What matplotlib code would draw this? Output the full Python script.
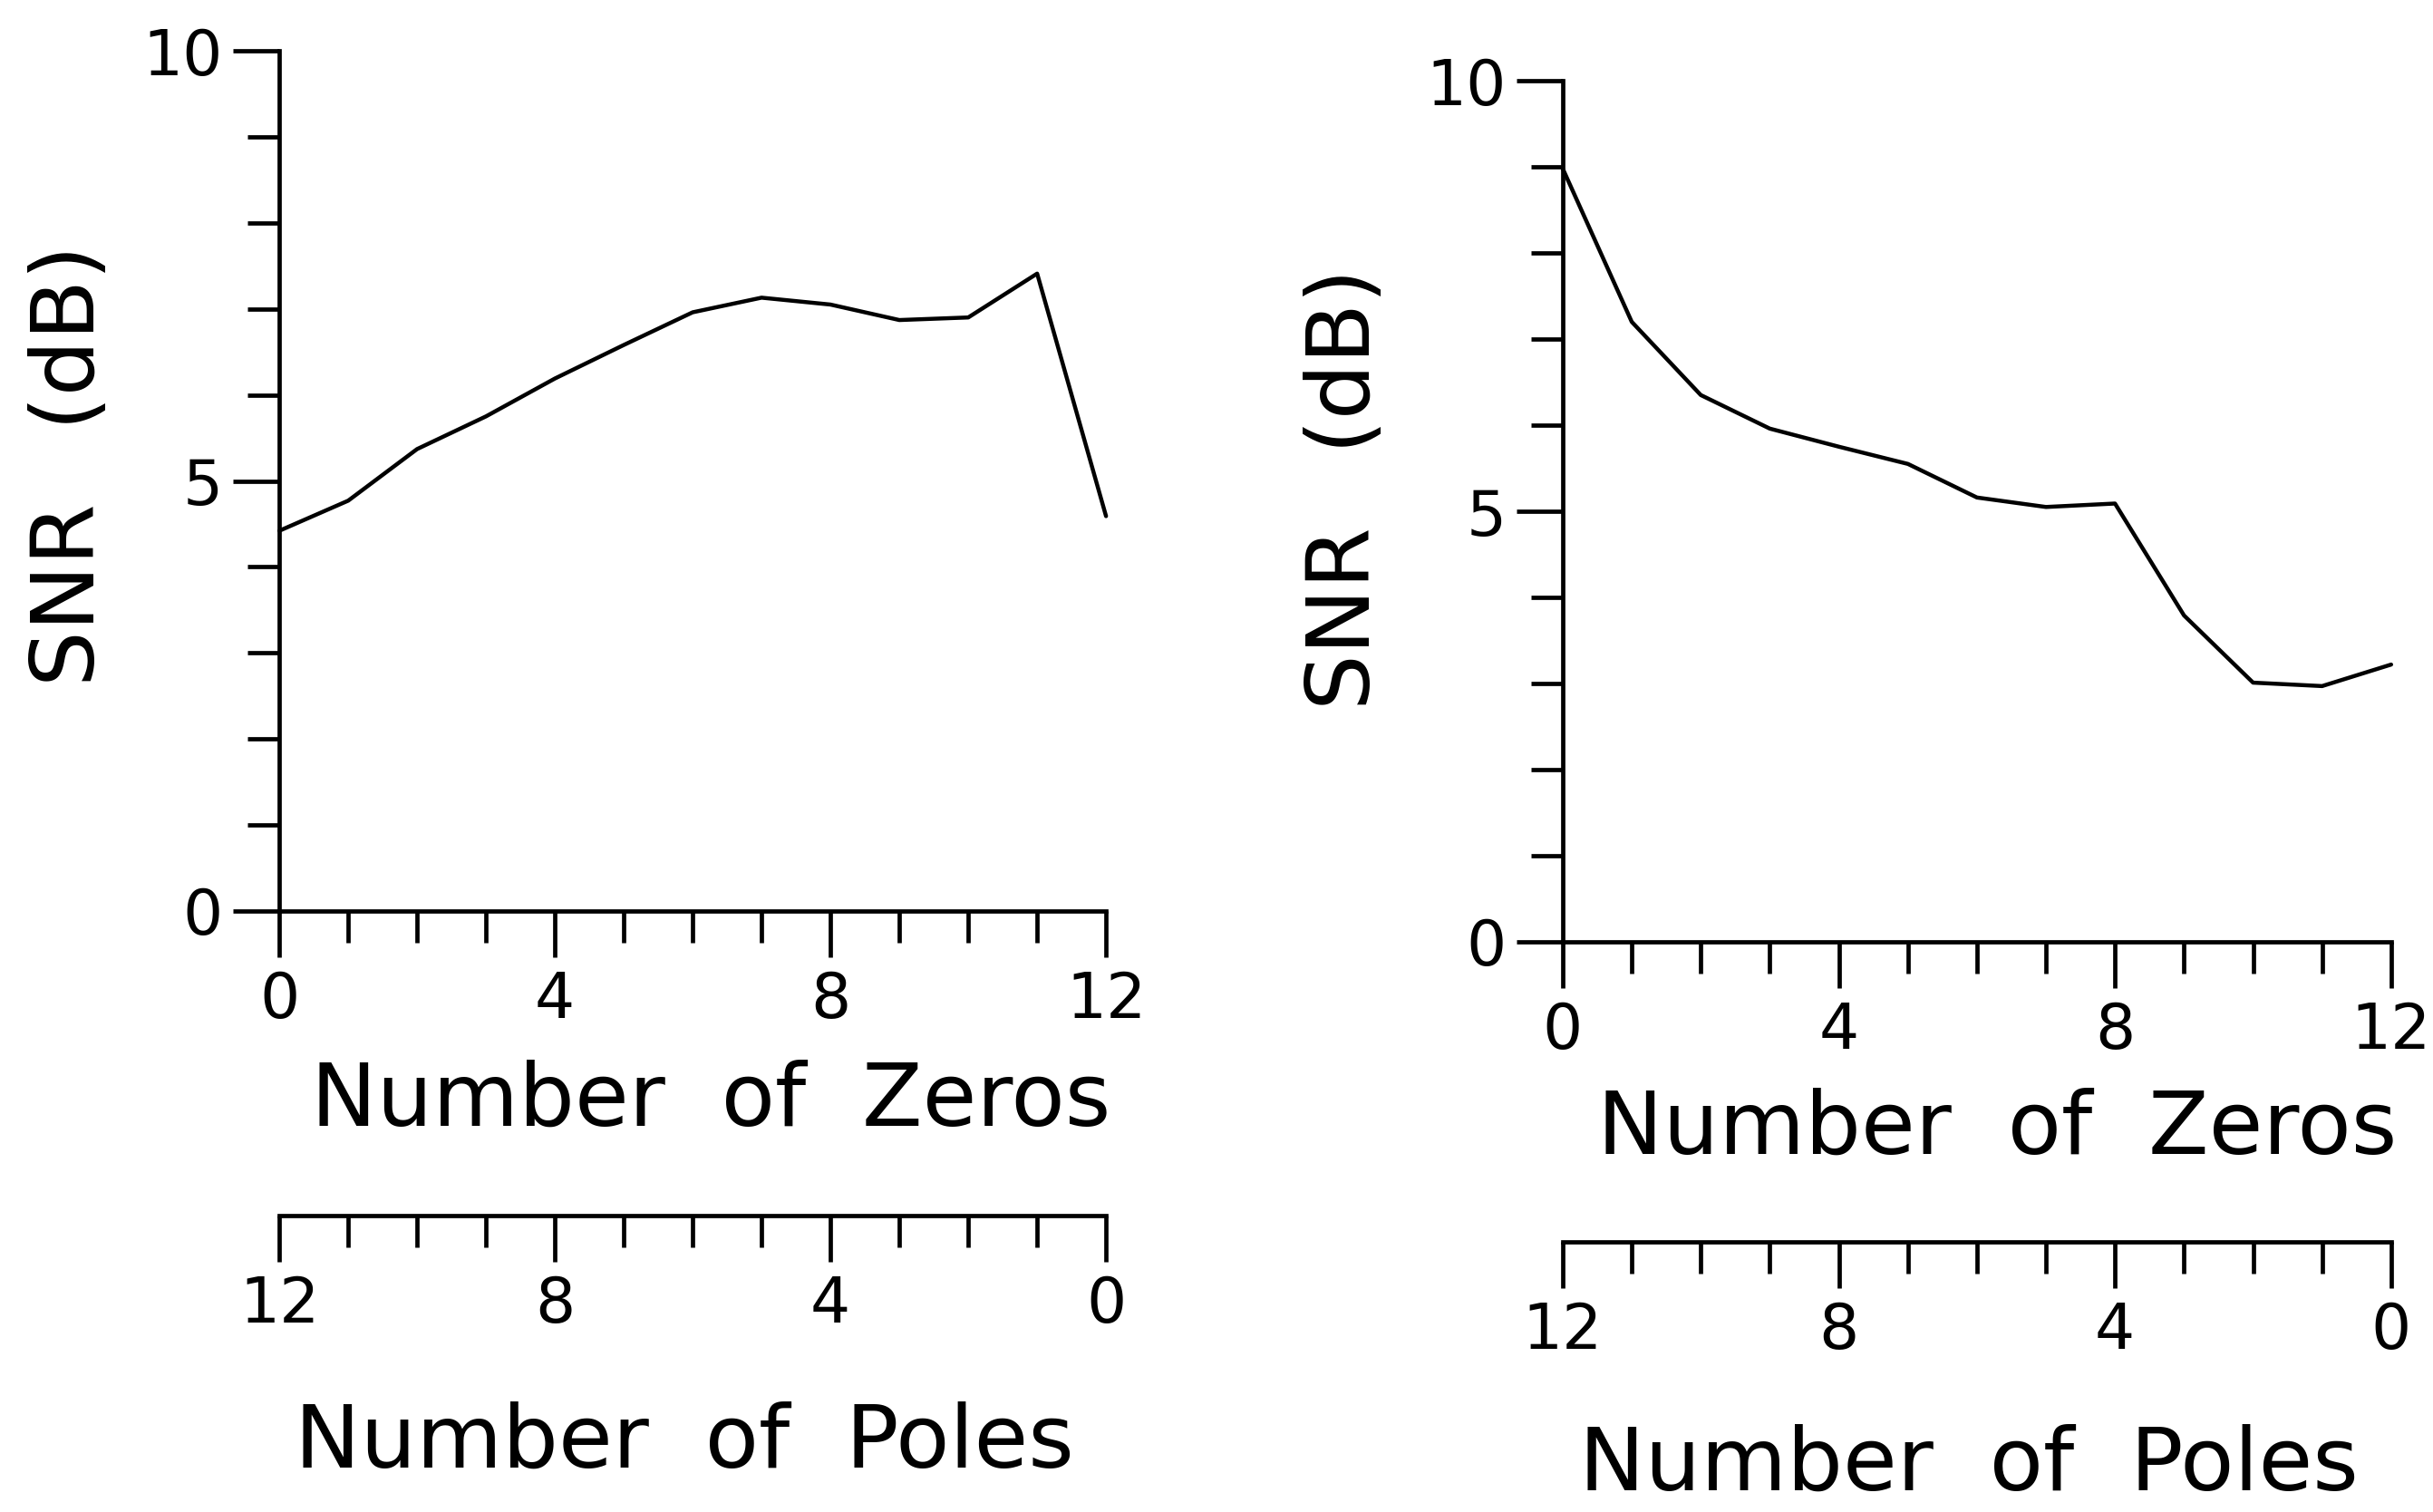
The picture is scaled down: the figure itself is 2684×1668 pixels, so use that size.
import matplotlib
matplotlib.use("Agg")
import matplotlib.pyplot as plt
import numpy as np

# SNR (dB) versus number of zeros; poles = 12 - zeros
n_zeros = [0, 1, 2, 3, 4, 5, 6, 7, 8, 9, 10, 11, 12]
snr_left = [4.42, 4.77, 5.37, 5.75, 6.19, 6.58, 6.96, 7.13, 7.05, 6.87, 6.90, 7.41, 4.59]
snr_right = [8.98, 7.20, 6.35, 5.96, 5.75, 5.55, 5.16, 5.05, 5.09, 3.79, 3.01, 2.97, 3.22]
total_order = 12
y_major = [0, 5, 10]
x_major = [0, 4, 8, 12]

plt.rcParams['font.family'] = ['DejaVu Sans']
LW = 3.4
plt.rcParams['axes.linewidth'] = LW

fig = plt.figure(figsize=(26.84, 16.68), dpi=100)
fig.patch.set_facecolor('white')

panels = [
    dict(rect=[0.1148, 0.3975, 0.3398, 0.5689], y=snr_left,
         zlab=(0.522, -0.222), plab=(0.49, -0.619), ylab=(-0.253, 0.518), sec=-0.354),
    dict(rect=[0.6423, 0.3771, 0.3405, 0.5695], y=snr_right,
         zlab=(0.524, -0.218), plab=(0.49, -0.609), ylab=(-0.262, 0.526), sec=-0.348),
]

tick_fs = 50
label_fs = 70

for p in panels:
    ax = fig.add_axes(p['rect'])
    ax.plot(n_zeros, p['y'], color='black', lw=3.2, solid_joinstyle='round',
            solid_capstyle='round', clip_on=False)
    ax.set_xlim(0, total_order)
    ax.set_ylim(0, 10)
    ax.patch.set_visible(False)
    for s in ('top', 'right'):
        ax.spines[s].set_visible(False)

    ax.set_xticks(x_major)
    ax.set_xticks(n_zeros, minor=True)
    ax.set_yticks(y_major)
    ax.set_yticks(np.arange(0, 11), minor=True)
    ax.tick_params(which='major', direction='out', length=37, width=LW,
                   labelsize=tick_fs, pad=8)
    ax.tick_params(which='minor', direction='out', length=25, width=LW)
    ax.tick_params(axis='x', which='major', pad=10)

    ax.set_xlabel('Number  of  Zeros', fontsize=label_fs, va='center', ha='center')
    ax.xaxis.set_label_coords(*p['zlab'])
    ax.set_ylabel('SNR  \u2009(dB)', fontsize=label_fs, va='center', ha='center')
    ax.yaxis.set_label_coords(*p['ylab'])

    # Number of poles axis beneath, counting down from 12 to 0
    sec = ax.secondary_xaxis(p['sec'], functions=(lambda x: total_order - x,
                                                  lambda x: total_order - x))
    sec.set_xticks(x_major)
    sec.set_xticks(n_zeros, minor=True)
    sec.spines['bottom'].set_linewidth(LW)
    sec.tick_params(which='major', direction='out', length=37, width=LW,
                    labelsize=tick_fs, pad=10)
    sec.tick_params(which='minor', direction='out', length=25, width=LW)
    ax.text(*p['plab'], 'Number  of  Poles', transform=ax.transAxes,
            fontsize=label_fs, va='center', ha='center')

fig.savefig('out.png', dpi=100, facecolor='white')
